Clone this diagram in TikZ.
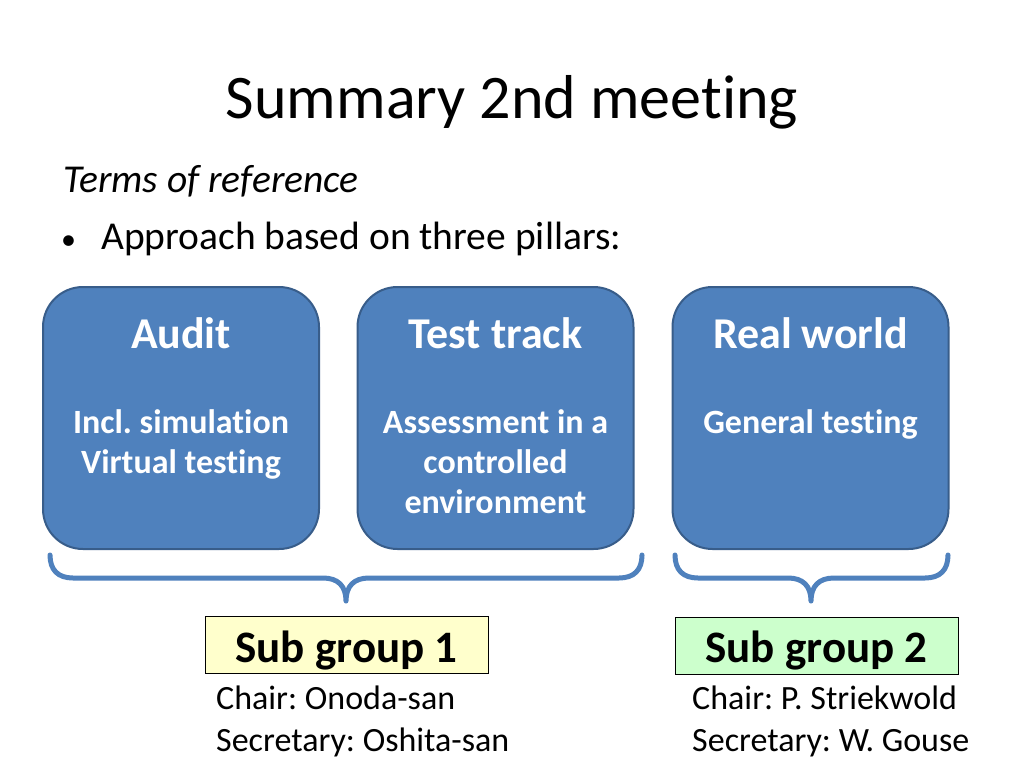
\documentclass[tikz,border=0pt]{standalone}
\usepackage{fontspec}
\setmainfont{Carlito}[Ligatures=NoCommon]
\usepackage{tikz}
\usetikzlibrary{positioning}
\frenchspacing
\definecolor{pillarblue}{HTML}{4F81BD}
\definecolor{pillarline}{HTML}{385D8A}
\definecolor{subyellow}{HTML}{FFFFCC}
\definecolor{subgreen}{HTML}{CCFFCC}
\tikzstyle{pillar} = [draw=pillarline, line width=2pt, fill=pillarblue, rounded corners=40pt, minimum width=276pt, minimum height=262pt]
\tikzstyle{pillarhead} = [text=white, font=\fontsize{44}{53}\selectfont\bfseries, inner sep=0pt, anchor=base]
\tikzstyle{pillartext} = [text=white, font=\fontsize{34}{40}\selectfont\bfseries, inner sep=0pt, anchor=base, align=center]
\tikzstyle{subbox} = [draw=black, line width=1pt, minimum width=283pt, minimum height=57pt]
\tikzstyle{subhead} = [font=\fontsize{45}{54}\selectfont\bfseries, inner sep=0pt, anchor=base]
\tikzstyle{members} = [font=\fontsize{34}{42}\selectfont, inner sep=0pt, anchor=base west, align=left]
\tikzstyle{brace} = [draw=pillarblue, line width=5pt, line cap=round, line join=round]

\begin{document}
\begin{tikzpicture}[yscale=-1]
			\useasboundingbox[fill=white] (0pt,0pt) rectangle (1024pt,768pt);
			\node (title) at (512pt,118pt)[anchor=base, inner sep=0pt, font=\fontsize{62}{75}\selectfont]{Summary 2nd meeting};
			\node (terms) at (63pt,192pt)[anchor=base west, inner sep=0pt, font=\fontsize{39.5}{47}\selectfont\itshape]{Terms of reference};
			\node (bullet) at (61pt,249pt)[anchor=base west, inner sep=0pt, font=\fontsize{30}{36}\selectfont]{•};
			\node (approach) at (101pt,249pt)[anchor=base west, inner sep=0pt, font=\fontsize{39.5}{47}\selectfont]{Approach based on three pillars:};
			% three pillars (base of a text = its last line)
			\node[pillar] (audit) at (181pt,418pt){};
			\node[pillarhead] (audit head) at (181pt,348pt){Audit};
			\node[pillartext] (audit text) at (181pt,473pt){Incl. simulation\\Virtual testing};
			\node[pillar] (track) at (495.5pt,418pt){};
			\node[pillarhead] (track head) at (495.5pt,348pt){Test track};
			\node[pillartext] (track text) at (495.5pt,513pt){Assessment in a\\controlled\\environment};
			\node[pillar] (world) at (810.5pt,418pt){};
			\node[pillarhead] (world head) at (810.5pt,348pt){Real world};
			\node[pillartext] (world text) at (810.5pt,433pt){General testing};
			% braces
			\draw[brace] (50pt,555pt) .. controls (50pt,570pt) and (58pt,578pt) .. (73pt,578pt) -- (323pt,578pt) .. controls (338pt,578pt) and (346pt,586pt) .. (346pt,601pt) .. controls (346pt,586pt) and (354pt,578pt) .. (369pt,578pt) -- (619pt,578pt) .. controls (634pt,578pt) and (642pt,570pt) .. (642pt,555pt);
			\draw[brace] (675pt,555pt) .. controls (675pt,570pt) and (683pt,578pt) .. (698pt,578pt) -- (788pt,578pt) .. controls (803pt,578pt) and (811pt,586pt) .. (811pt,601pt) .. controls (811pt,586pt) and (819pt,578pt) .. (834pt,578pt) -- (925pt,578pt) .. controls (940pt,578pt) and (948pt,570pt) .. (948pt,555pt);
			% sub groups
			\node[subbox, fill=subyellow] (sub1) at (346.5pt,645pt){};
			\node[subhead] (sub1 head) at (346.5pt,662pt){Sub group 1};
			\node[members] (sub1 members) at (216pt,751pt){Chair: Onoda-san\\Secretary: Oshita-san};
			\node[subbox, fill=subgreen] (sub2) at (816.5pt,645.5pt){};
			\node[subhead] (sub2 head) at (816.5pt,662pt){Sub group 2};
			\node[members] (sub2 members) at (692pt,751pt){Chair: P. Striekwold\\Secretary: W. Gouse};
		\end{tikzpicture}
\end{document}
